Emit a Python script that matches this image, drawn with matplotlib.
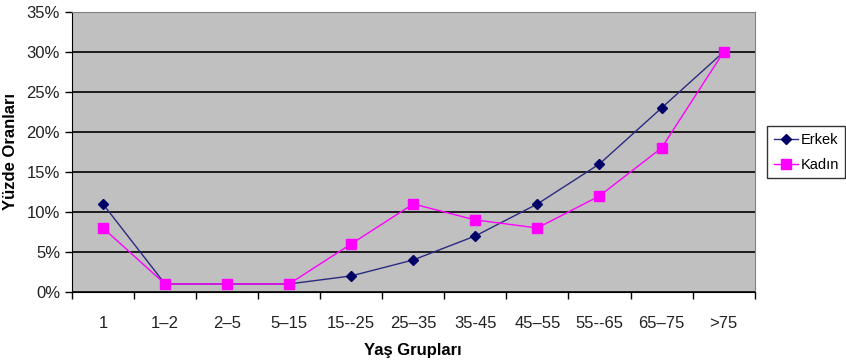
import matplotlib
matplotlib.use('Agg')
import matplotlib.pyplot as plt
from matplotlib.ticker import FixedLocator, FuncFormatter

plt.rcParams['font.family'] = ['Liberation Sans', 'DejaVu Sans']

kategoriler = ['1', '1–2', '2–5', '5–15', '15--25', '25–35', '35-45', '45–55', '55--65', '65–75', '>75']
erkek = [11, 1, 1, 1, 2, 4, 7, 11, 16, 23, 30]
kadin = [8, 1, 1, 1, 6, 11, 9, 8, 12, 18, 30]
y_ticks = [0, 5, 10, 15, 20, 25, 30, 35]

fig = plt.figure(figsize=(8.46, 3.64), dpi=100)
ax = fig.add_axes([0.085, 0.198, 0.807, 0.769])
ax.set_facecolor('#C0C0C0')

x = list(range(len(kategoriler)))
ax.plot(x, erkek, color='#2B2B80', marker='D', markersize=5, linewidth=1,
        markerfacecolor='#000066', markeredgecolor='#000066', label='Erkek', zorder=3)
ax.plot(x, kadin, color='#FF00FF', marker='s', markersize=7, linewidth=1,
        label='Kadın', zorder=3)

ax.set_xlim(-0.5, len(kategoriler) - 0.5)
ax.set_ylim(0, 35)
ax.set_yticks(y_ticks)
ax.yaxis.set_major_formatter(FuncFormatter(lambda v, p: '%d%%' % v))
ax.grid(axis='y', color='black', linewidth=1.2)
ax.set_axisbelow(True)

ax.set_xticks(x)
ax.set_xticklabels(kategoriler)
ax.xaxis.set_minor_locator(FixedLocator([i - 0.5 for i in range(len(kategoriler) + 1)]))
ax.tick_params(axis='x', which='major', length=0, pad=17, labelsize=12, colors='#222222')
ax.tick_params(axis='x', which='minor', length=5, width=1, color='black')
ax.tick_params(axis='y', length=5, width=1, color='black', labelsize=12, labelcolor='#222222')

for s in ['top', 'right']:
    ax.spines[s].set_color('#808080')
for s in ['left', 'bottom']:
    ax.spines[s].set_color('black')

ax.set_xlabel('Yaş Grupları', fontweight='bold', fontsize=12, labelpad=9)
ax.set_ylabel('Yüzde Oranları', fontweight='bold', fontsize=12, labelpad=6)

fig.legend(loc='center left', bbox_to_anchor=(767 / 846, 0.582), frameon=True,
           fancybox=False, edgecolor='black', fontsize=10.5, handlelength=1.7,
           borderpad=0.45, labelspacing=0.75, handletextpad=0.15, borderaxespad=0)

plt.savefig('out.png', dpi=100)
